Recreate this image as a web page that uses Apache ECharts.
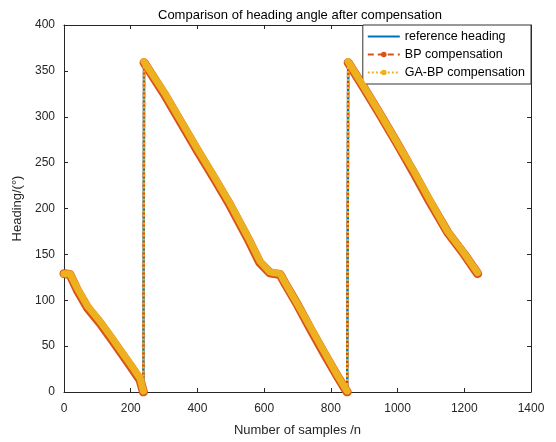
<!DOCTYPE html>
<html>
<head>
<meta charset="utf-8">
<script src="https://cdn.jsdelivr.net/npm/echarts@6/dist/echarts.min.js"></script>
<style>
  html, body { margin: 0; padding: 0; background: #fff; }
  #chart { width: 556px; height: 442px; }
</style>
</head>
<body>
<div id="chart"></div>
<script>
// Sample index and heading (degrees) for the three traces
const sampleIdx   = [0, 18, 40, 70, 108, 140, 165, 198, 228, 238,
                     240, 300, 350, 400, 450, 497, 550, 587, 617, 630, 648,
                     660, 700, 740, 780, 820, 840, 849,
                     852, 900, 950, 1000, 1050, 1097, 1150, 1200, 1240];
const refHeading  = [129, 129, 113, 94, 77, 61, 48, 31, 15, 1,
                     360, 326, 296, 265, 235, 206, 170, 143, 131, 130, 129,
                     121, 96, 70, 44, 18, 6, 1,
                     360, 332, 302, 271, 240, 209, 175, 151, 130];
const bpHeading   = [129, 128, 111, 92, 75, 59, 46, 29, 13, 0,
                     359, 325, 294, 263, 233, 204, 168, 141, 130, 129, 128,
                     120, 95, 68, 42, 17, 5, 0,
                     359, 331, 301, 270, 238, 207, 174, 150, 129];
const gabpHeading = [129, 129, 113, 94, 77, 61, 48, 31, 15, 1,
                     360, 327, 296, 265, 235, 206, 170, 143, 131, 130, 129,
                     121, 96, 70, 44, 18, 6, 1,
                     360, 332, 302, 271, 240, 209, 175, 151, 130];
const xTicks = [0, 200, 400, 600, 800, 1000, 1200, 1400];
const yTicks = [0, 50, 100, 150, 200, 250, 300, 350, 400];

const FONT = 'Liberation Sans, Arial, sans-serif';
const C_REF = '#0072BD', C_BP = '#D95319', C_GA = '#EDB120';
const INK = '#262626';

function pairs(ys) {
  return sampleIdx.map((x, i) => [x, ys[i]]);
}
// Continuous pieces only: break the trace where the heading wraps 0 -> 360
function pieces(ys) {
  const out = [];
  for (let i = 0; i < sampleIdx.length; i++) {
    out.push([sampleIdx[i], ys[i]]);
    if (i + 1 < ys.length && Math.abs(ys[i + 1] - ys[i]) > 180) {
      out.push([(sampleIdx[i] + sampleIdx[i + 1]) / 2, '-']);
    }
  }
  return out;
}

function boxAxis(extra) {
  return Object.assign({
    type: 'value',
    axisLine: { show: true, onZero: false, lineStyle: { color: INK, width: 1 } },
    axisTick: { show: true, inside: true, length: 4, lineStyle: { color: INK, width: 1 } },
    splitLine: { show: false }
  }, extra);
}

const chart = echarts.init(document.getElementById('chart'), null, { renderer: 'canvas' });
chart.setOption({
  animation: false,
  backgroundColor: '#fff',
  textStyle: { fontFamily: FONT },
  title: {
    text: 'Comparison of heading angle after compensation',
    left: 153, top: 4,
    textStyle: { fontFamily: FONT, fontSize: 13, fontWeight: 'normal', color: '#000' }
  },
  grid: { left: 64, right: 25, top: 25, bottom: 50 },
  legend: {
    data: [
      { name: 'reference heading', itemStyle: { color: 'rgba(0,0,0,0)', borderWidth: 0 } },
      { name: 'BP compensation' },
      { name: 'GA-BP compensation' }
    ],
    orient: 'vertical', right: 25, top: 25,
    padding: [5, 6, 5, 4], itemGap: 5,
    itemWidth: 32, itemHeight: 7,
    backgroundColor: '#fff', borderColor: '#333', borderWidth: 1, borderRadius: 0,
    textStyle: { fontFamily: FONT, fontSize: 12.5, color: '#000', padding: [0, 0, 0, 0] }
  },
  xAxis: [
    boxAxis({
      min: 0, max: 1400, interval: 200, position: 'bottom',
      name: 'Number of samples /n', nameLocation: 'middle', nameGap: 32,
      nameTextStyle: { fontFamily: FONT, fontSize: 13, color: INK },
      axisLabel: { fontFamily: FONT, fontSize: 12, color: INK, margin: 11,
                   formatter: v => String(v) }
    }),
    boxAxis({ min: 0, max: 1400, interval: 200, position: 'top', axisLabel: { show: false } })
  ],
  yAxis: [
    boxAxis({
      min: 0, max: 400, interval: 50, position: 'left',
      name: 'Heading/(°)', nameLocation: 'middle', nameGap: 35,
      nameTextStyle: { fontFamily: FONT, fontSize: 13, color: INK },
      axisLabel: { fontFamily: FONT, fontSize: 12, color: INK, margin: 9 }
    }),
    boxAxis({ min: 0, max: 400, interval: 50, position: 'right', axisLabel: { show: false } })
  ],
  series: [
    {
      name: 'reference heading', type: 'line', data: pairs(refHeading),
      symbol: 'none', z: 1,
      lineStyle: { color: C_REF, width: 2.5 }, itemStyle: { color: C_REF }
    },
    {
      name: 'BP compensation', type: 'line', data: pairs(bpHeading),
      symbol: 'circle', symbolSize: 6, showSymbol: false, z: 2,
      lineStyle: { color: C_BP, width: 2.5, type: [6, 4] }, itemStyle: { color: C_BP }
    },
    {
      name: 'BP band', type: 'line', data: pieces(bpHeading),
      symbol: 'none', z: 3, connectNulls: false,
      lineStyle: { color: C_BP, width: 9, cap: 'round', join: 'round' }
    },
    {
      name: 'GA-BP compensation', type: 'line', data: pairs(gabpHeading),
      symbol: 'circle', symbolSize: 6, showSymbol: false, z: 4,
      lineStyle: { color: C_GA, width: 2.5, type: [2, 2] }, itemStyle: { color: C_GA }
    },
    {
      name: 'GA-BP band', type: 'line', data: pieces(gabpHeading),
      symbol: 'none', z: 5, connectNulls: false,
      lineStyle: { color: C_GA, width: 7, cap: 'round', join: 'round' }
    }
  ]
});
</script>
</body>
</html>
